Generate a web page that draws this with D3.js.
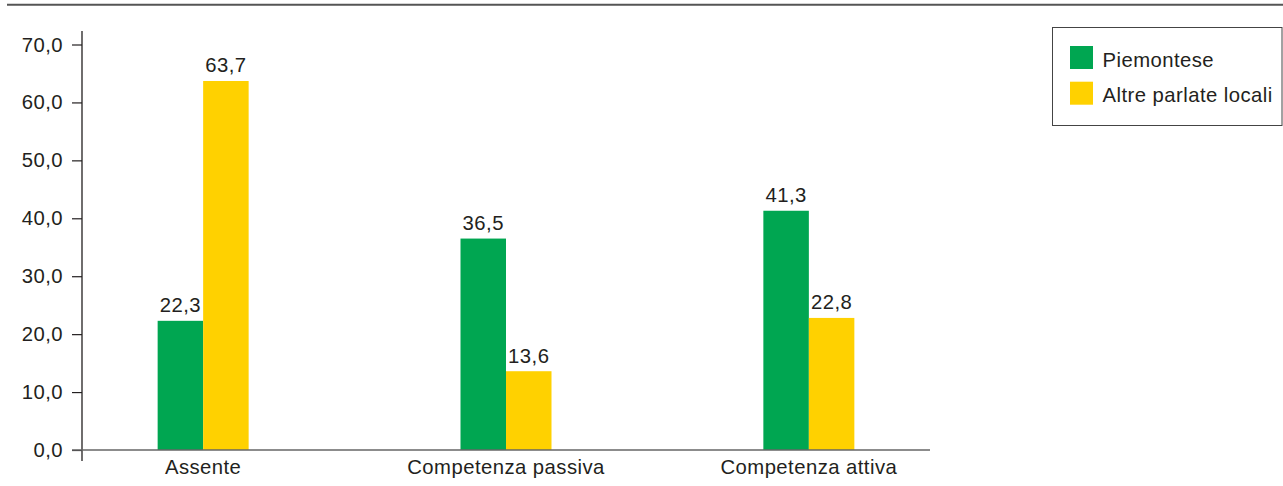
<!DOCTYPE html>
<html>
<head>
<meta charset="utf-8">
<script src="https://cdn.jsdelivr.net/npm/d3@7"></script>
<style>
  html, body { margin: 0; padding: 0; background: #fff; }
  svg { display: block; font-family: "Liberation Sans", Arial, Helvetica, sans-serif; }
  text { fill: #231f20; }
</style>
</head>
<body>
<svg id="chart" width="1283" height="486"></svg>
<script>
// Categories, series and axis ticks
const categories = ["Assente", "Competenza passiva", "Competenza attiva"];
const seriesNames = ["Piemontese", "Altre parlate locali"];
const piemontese = [22.3, 36.5, 41.3];
const altreParlate = [63.7, 13.6, 22.8];
const yTicks = [0, 10, 20, 30, 40, 50, 60, 70];
const colors = ["#00a651", "#ffd100"];

const seriesValues = [piemontese, altreParlate];
const fmt = v => v.toFixed(1).replace(".", ",");

const svg = d3.select("#chart");
const FS = 20.3;
const LS = "0.45px";

// Plot area
const plot = { left: 82, right: 930, top: 44.5, bottom: 450 };

const x = d3.scalePoint().domain(categories).range([plot.left, plot.right]).padding(0.4);
const y = d3.scaleLinear().domain([0, 70]).range([plot.bottom, plot.top]);
const barW = 45.5;
const xs = d3.scaleBand().domain(seriesNames).range([-barW, barW]).padding(0);

// Rule across the top
svg.append("line")
  .attr("x1", 7).attr("x2", 1283).attr("y1", 4.7).attr("y2", 4.7)
  .attr("stroke", "#555").attr("stroke-width", 2);

// Y axis
const yAxis = d3.axisLeft(y).tickValues(yTicks).tickFormat(fmt).tickSize(10).tickPadding(9);
const gy = svg.append("g").attr("transform", `translate(${plot.left},0)`).call(yAxis);
gy.select(".domain").remove();
gy.selectAll(".tick line").attr("stroke", "#231f20").attr("stroke-width", 1.2);
gy.selectAll(".tick text")
  .attr("font-size", FS).attr("letter-spacing", LS)
  .attr("fill", "#231f20").style("font-family", "'Liberation Sans', Arial, sans-serif");
svg.append("line")
  .attr("x1", plot.left).attr("x2", plot.left).attr("y1", 31).attr("y2", 461)
  .attr("stroke", "#231f20").attr("stroke-width", 1.3);

// Bars
const groups = svg.append("g").selectAll("g.cat")
  .data(categories).join("g")
  .attr("class", "cat")
  .attr("transform", d => `translate(${x(d)},0)`);

seriesNames.forEach((s, si) => {
  groups.append("rect")
    .attr("x", xs(s))
    .attr("width", xs.bandwidth())
    .attr("y", (d, i) => y(seriesValues[si][i]))
    .attr("height", (d, i) => y(0) - y(seriesValues[si][i]))
    .attr("fill", colors[si]);
  groups.append("text")
    .attr("x", xs(s) + xs.bandwidth() / 2)
    .attr("y", (d, i) => y(seriesValues[si][i]) - 8.5)
    .attr("text-anchor", "middle")
    .attr("font-size", FS).attr("letter-spacing", LS)
    .text((d, i) => fmt(seriesValues[si][i]));
});

// Baseline and category labels
svg.append("line")
  .attr("x1", plot.left - 10).attr("x2", plot.right).attr("y1", plot.bottom).attr("y2", plot.bottom)
  .attr("stroke", "#666").attr("stroke-width", 1.5);
svg.append("g").selectAll("text")
  .data(categories).join("text")
  .attr("x", d => x(d)).attr("y", 474)
  .attr("text-anchor", "middle")
  .attr("font-size", FS).attr("letter-spacing", LS)
  .text(d => d);

// Legend
const lg = svg.append("g");
lg.append("rect")
  .attr("x", 1052.5).attr("y", 27.5).attr("width", 229.5).attr("height", 98)
  .attr("fill", "none").attr("stroke", "#444").attr("stroke-width", 1);
seriesNames.forEach((s, i) => {
  lg.append("rect")
    .attr("x", 1070).attr("y", 46 + i * 35.7).attr("width", 23).attr("height", 23)
    .attr("fill", colors[i]);
  lg.append("text")
    .attr("x", 1102.5).attr("y", 66.7 + i * 35)
    .attr("font-size", FS).attr("letter-spacing", LS)
    .text(s);
});
</script>
</body>
</html>
